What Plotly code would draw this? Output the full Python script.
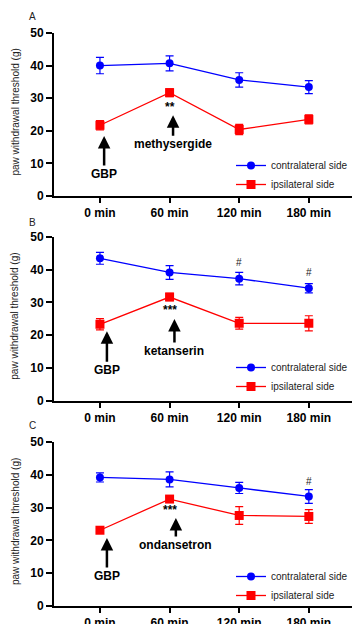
import plotly.graph_objects as go

# ---- data ----
time_labels = ["0 min", "60 min", "120 min", "180 min"]
time_pos = [0, 1, 2, 3]

a_contra = [40.0, 40.7, 35.6, 33.4]
a_contra_err = [2.5, 2.3, 2.2, 2.0]
a_ipsi = [21.7, 31.7, 20.4, 23.5]
a_ipsi_err = [1.4, 1.2, 1.6, 1.4]

b_contra = [43.4, 39.1, 37.2, 34.3]
b_contra_err = [1.8, 2.1, 1.9, 1.4]
b_ipsi = [23.3, 31.6, 23.6, 23.6]
b_ipsi_err = [1.7, 1.1, 1.8, 2.3]

c_contra = [39.2, 38.6, 36.0, 33.4]
c_contra_err = [1.4, 2.3, 1.7, 2.1]
c_ipsi = [23.1, 32.6, 27.6, 27.3]
c_ipsi_err = [0.5, 0.7, 2.7, 2.1]

drugs = ["methysergide", "ketanserin", "ondansetron"]
stars = ["**", "***", "***"]
panel_letters = ["A", "B", "C"]
y_title = "paw withdrawal threshold (g)"

BLUE = "#0000FF"
RED = "#FF0000"
FONT = "Liberation Sans, Arial, sans-serif"
W, H = 355, 624

# pixel geometry of each panel: (top px of y=50, bottom px of y=0)
panels_px = [(33, 196), (236.7, 400.7), (442, 606)]
x_left, x_right = 54, 352

fig = go.Figure()

data_sets = [
    (a_contra, a_contra_err, a_ipsi, a_ipsi_err),
    (b_contra, b_contra_err, b_ipsi, b_ipsi_err),
    (c_contra, c_contra_err, c_ipsi, c_ipsi_err),
]

legend_names = ["legend", "legend2", "legend3"]
legend_top_px = [151, 353, 562]

for i, (cv, ce, iv, ie) in enumerate(data_sets):
    xa = "x" if i == 0 else f"x{i+1}"
    ya = "y" if i == 0 else f"y{i+1}"
    lg = legend_names[i]
    fig.add_trace(go.Scatter(
        x=time_pos, y=cv, xaxis=xa, yaxis=ya, mode="lines+markers",
        name="contralateral side", legend=lg,
        line=dict(color=BLUE, width=1.3),
        marker=dict(color=BLUE, size=8, symbol="circle"),
        error_y=dict(type="data", array=ce, color=BLUE, thickness=1.2, width=4),
    ))
    fig.add_trace(go.Scatter(
        x=time_pos, y=iv, xaxis=xa, yaxis=ya, mode="lines+markers",
        name="ipsilateral side", legend=lg,
        line=dict(color=RED, width=1.3),
        marker=dict(color=RED, size=9, symbol="square"),
        error_y=dict(type="data", array=ie, color=RED, thickness=1.2, width=4),
    ))

layout = dict(
    width=W, height=H,
    margin=dict(l=0, r=0, t=0, b=0, autoexpand=False),
    paper_bgcolor="white", plot_bgcolor="white",
    font=dict(family=FONT, color="black"),
    showlegend=True,
)

for i, (top, bot) in enumerate(panels_px):
    xk = "xaxis" if i == 0 else f"xaxis{i+1}"
    yk = "yaxis" if i == 0 else f"yaxis{i+1}"
    ya = "y" if i == 0 else f"y{i+1}"
    xa = "x" if i == 0 else f"x{i+1}"
    layout[xk] = dict(
        domain=[x_left / W, x_right / W], anchor=ya,
        range=[-0.66, 3.62], tickvals=time_pos, ticktext=time_labels,
        showgrid=False, zeroline=False, showline=True, linecolor="black", linewidth=2,
        ticks="outside", ticklen=5, tickwidth=2, tickcolor="black",
        tickfont=dict(family=FONT, size=12, color="black", weight="bold"),
        automargin=False, fixedrange=True,
    )
    layout[yk] = dict(
        domain=[1 - bot / H, 1 - top / H], anchor=xa,
        range=[0, 50], tickvals=[0, 10, 20, 30, 40, 50],
        showgrid=False, zeroline=False, showline=True, linecolor="black", linewidth=2,
        ticks="outside", ticklen=6, tickwidth=2, tickcolor="black",
        tickfont=dict(family=FONT, size=12, color="black", weight="bold"),
        automargin=False, fixedrange=True,
    )
    lkey = legend_names[i]
    layout[lkey] = dict(
        x=231 / W, y=1 - legend_top_px[i] / H, xanchor="left", yanchor="top",
        xref="paper", yref="paper",
        bgcolor="rgba(0,0,0,0)", font=dict(family=FONT, size=10, color="#222"),
        itemwidth=30, tracegroupgap=0,
    )

fig.update_layout(**layout)

# annotations: arrows, labels, stars
gbp_tip = [18.4, 21.2, 20.7]
gbp_x = [0.06, 0.1, 0.1]
gbp_ay = [38, 39, 38]
drug_tip = [24.8, 24.9, 26.8]
drug_x = [1.05, 1.07, 1.09]
drug_ay = [29, 32, 27]
star_y = [27.3, 27.7, 29.3]
hash_marks = [[], [(2, 42.2), (3, 39.2)], [(3, 37.9)]]
letter_px = [(32, 16), (32, 222), (32, 425)]

for i in range(3):
    xa = "x" if i == 0 else f"x{i+1}"
    ya = "y" if i == 0 else f"y{i+1}"
    top, bot = panels_px[i]
    fig.add_annotation(x=gbp_x[i], y=gbp_tip[i], xref=xa, yref=ya, text="<b>GBP</b>",
                       showarrow=True, ax=0, ay=gbp_ay[i], arrowhead=2, arrowsize=1,
                       arrowwidth=2.5, arrowcolor="black",
                       font=dict(family=FONT, size=12, color="black"))
    fig.add_annotation(x=drug_x[i], y=drug_tip[i], xref=xa, yref=ya, text=f"<b>{drugs[i]}</b>",
                       showarrow=True, ax=0, ay=drug_ay[i], arrowhead=2, arrowsize=1,
                       arrowwidth=2.5, arrowcolor="black",
                       font=dict(family=FONT, size=12, color="black"))
    fig.add_annotation(x=1, y=star_y[i], xref=xa, yref=ya, text=f"<b>{stars[i]}</b>",
                       showarrow=False, font=dict(family=FONT, size=12, color="black"))
    for (hx, hy) in hash_marks[i]:
        fig.add_annotation(x=hx, y=hy, xref=xa, yref=ya, text="#",
                           showarrow=False, font=dict(family=FONT, size=10, color="#222"))
    lx, ly = letter_px[i]
    fig.add_annotation(x=lx / W, y=1 - ly / H, xref="paper", yref="paper", text=panel_letters[i],
                       showarrow=False, xanchor="center", yanchor="middle",
                       font=dict(family=FONT, size=10, color="#222"))
    # y-axis title
    fig.add_annotation(x=15 / W, y=1 - ((top + bot) / 2 - 2) / H, xref="paper", yref="paper",
                       text=y_title, textangle=-90, showarrow=False,
                       xanchor="center", yanchor="middle",
                       font=dict(family=FONT, size=10, color="#222"))

fig.write_html("out.html", config={"displayModeBar": False},
               post_script="document.body.style.margin='0';document.body.style.overflow='hidden';")
